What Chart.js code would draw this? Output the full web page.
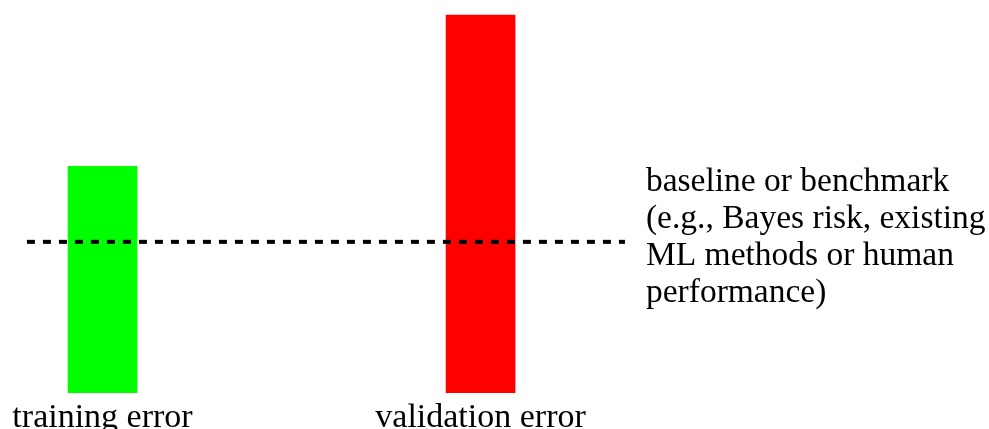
<!DOCTYPE html>
<html>
<head>
<meta charset="utf-8">
<script src="https://cdn.jsdelivr.net/npm/chart.js@4"></script>
<style>
  html, body { margin: 0; padding: 0; background: #fff; }
  #wrap { width: 989px; height: 429px; position: relative; }
</style>
</head>
<body>
<div id="wrap"><canvas id="errChart"></canvas></div>
<script>
// chart data
const categories = ['training error', 'validation error'];
const errorValues = [6, 10];
const barColors = ['#00ff00', '#ff0000'];
const baselineValue = 4;
const baselineSpan = [-0.2, 1.382];
const noteLines = [
    'baseline or benchmark',
    '(e.g., Bayes risk, existing',
    'ML methods or human',
    'performance)'
];

const serif = '"Liberation Serif", "Times New Roman", serif';

// writes the note next to the end of the dashed line
const notePlugin = {
    id: 'note',
    afterDraw(chart) {
        const c = chart.ctx;
        const xs = chart.scales.x, ys = chart.scales.y;
        const x0 = xs.getPixelForValue(baselineSpan[1]) + 21;
        const y0 = ys.getPixelForValue(baselineValue) - 51;
        c.save();
        c.font = '33.5px ' + serif;
        c.fillStyle = '#000';
        c.textAlign = 'left';
        c.textBaseline = 'alphabetic';
        noteLines.forEach((line, i) => c.fillText(line, x0, y0 + i * 37));
        c.restore();
    }
};

const ctx = document.getElementById('errChart').getContext('2d');

const myChart = new Chart(ctx, {
    data: {
        datasets: [{
            type: 'line',
            data: baselineSpan.map(x => ({ x: x, y: baselineValue })),
            borderColor: '#000',
            borderWidth: 4,
            borderDash: [8, 8],
            borderCapStyle: 'butt',
            pointRadius: 0,
            order: 0
        }, {
            type: 'bar',
            data: categories.map((c, i) => ({ x: i, y: errorValues[i] })),
            backgroundColor: barColors,
            borderWidth: 0,
            barThickness: 69,
            order: 1
        }]
    },
    options: {
        responsive: true,
        maintainAspectRatio: false,
        animation: false,
        layout: { padding: 0 },
        plugins: {
            legend: { display: false },
            tooltip: { enabled: false }
        },
        scales: {
            x: {
                type: 'linear',
                offset: false,
                min: -0.2712,
                max: 2.345,
                grid: { display: false, drawTicks: false },
                border: { display: false },
                afterBuildTicks: axis => {
                    axis.ticks = categories.map((c, i) => ({ value: i }));
                },
                afterFit: axis => {
                    axis.height = 36;
                    axis.paddingLeft = 0;
                    axis.paddingRight = 0;
                },
                ticks: {
                    padding: 18,
                    color: '#000',
                    maxRotation: 0,
                    autoSkip: false,
                    font: { family: serif, size: 34, lineHeight: 15 / 34 },
                    callback: v => categories[v]
                }
            },
            y: {
                display: false,
                min: 0,
                max: 10.4
            }
        }
    },
    plugins: [notePlugin]
});
</script>
</body>
</html>
